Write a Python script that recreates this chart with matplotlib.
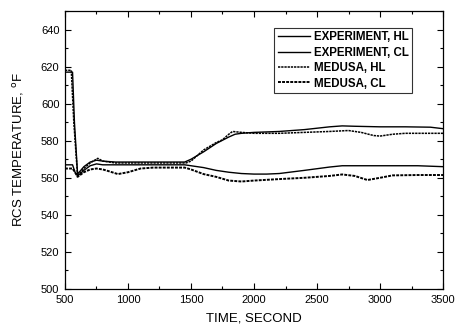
import matplotlib
matplotlib.use("Agg")
import matplotlib.pyplot as plt
from matplotlib.ticker import MultipleLocator

plt.rcParams['font.family'] = ['Liberation Sans', 'DejaVu Sans']

# time (s) and temperature (F)
t_exp_hl = [500, 560, 575, 600, 650, 700, 750, 800, 900, 1000, 1200, 1450, 1500, 1600,
            1700, 1800, 1850, 1900, 2000, 2200, 2400, 2600, 2700, 2800, 3000, 3200, 3400, 3500]
T_exp_hl = [617, 617, 590, 562, 566, 568.5, 569.5, 569, 568.5, 568.5, 568.5, 568.5, 570, 574,
            578.5, 582, 583.5, 584, 584.5, 585, 586, 587.5, 588, 587.8, 587.5, 587.5, 587.3, 586.5]

t_exp_cl = [500, 560, 580, 600, 650, 700, 750, 800, 900, 1000, 1200, 1450, 1500, 1600, 1700,
            1800, 1900, 2000, 2100, 2200, 2400, 2600, 2700, 3000, 3300, 3500]
T_exp_cl = [567, 567, 563, 561, 564, 566.5, 567.5, 567, 567, 567, 567, 567, 566.5, 565.5, 564,
            563, 562.3, 562, 562, 562.3, 564, 565.8, 566.5, 566.5, 566.5, 566]

t_med_hl = [500, 550, 570, 600, 650, 700, 760, 800, 900, 1000, 1200, 1460, 1500, 1550, 1600,
            1650, 1700, 1750, 1800, 1830, 1900, 2000, 2200, 2400, 2600, 2750, 2850, 2950, 3000,
            3100, 3200, 3350, 3500]
T_med_hl = [618, 618, 590, 561, 565, 568, 570.5, 569, 568, 568, 568, 568, 569, 572, 575,
            577, 579, 580.5, 583.5, 585, 584.5, 584, 584, 584.5, 585, 585.5, 584.5, 582.8, 582.5,
            583.5, 584, 584, 584]

t_med_cl = [500, 560, 580, 600, 650, 700, 750, 800, 850, 920, 1000, 1100, 1200, 1450, 1500,
            1600, 1700, 1800, 1900, 2000, 2200, 2400, 2600, 2700, 2800, 2900, 3000, 3100, 3300, 3500]
T_med_cl = [565, 565, 563, 560.5, 563, 564.5, 565, 564.5, 563.5, 562, 563, 565, 565.5, 565.5,
            564.5, 562, 560.5, 558.5, 558, 558.5, 559.3, 560, 561, 561.8, 561, 558.8, 560, 561.3,
            561.5, 561.5]

fig = plt.figure(figsize=(4.57, 3.29), dpi=100)
ax = fig.add_axes([0.1422, 0.1216, 0.8272, 0.845])

ax.plot(t_exp_hl, T_exp_hl, color='black', lw=1.0, label='EXPERIMENT, HL')
ax.plot(t_exp_cl, T_exp_cl, color='black', lw=1.0, label='EXPERIMENT, CL')
ax.plot(t_med_hl, T_med_hl, color='black', lw=1.1, ls=(0, (1.5, 0.6)), label='MEDUSA, HL')
ax.plot(t_med_cl, T_med_cl, color='black', lw=1.4, ls=(0, (1.5, 0.6)), label='MEDUSA, CL')

ax.set_xlim(500, 3500)
ax.set_ylim(500, 650)
ax.set_yticks(range(500, 641, 20))
ax.xaxis.set_major_locator(MultipleLocator(500))
ax.xaxis.set_minor_locator(MultipleLocator(250))
ax.yaxis.set_minor_locator(MultipleLocator(10))
ax.tick_params(which='both', direction='in', top=True, right=True, labelsize=8, width=0.8)
ax.tick_params(which='major', length=4, pad=4)
ax.tick_params(which='minor', length=2)
for s in ax.spines.values():
    s.set_linewidth(0.9)

ax.set_xlabel('TIME, SECOND', fontsize=9.5, labelpad=6)
ax.set_ylabel('RCS TEMPERATURE, $^{\\rm o}$F', fontsize=9.5, labelpad=11)

leg = ax.legend(loc='upper right', bbox_to_anchor=(0.918, 0.94),
                prop={'weight': 'bold', 'size': 8.3}, frameon=True, fancybox=False,
                handlelength=2.8, handletextpad=0.3, labelspacing=0.3,
                borderpad=0.3, borderaxespad=0)
leg.get_frame().set_edgecolor('black')
leg.get_frame().set_linewidth(0.8)

fig.savefig('out.png', dpi=100)
